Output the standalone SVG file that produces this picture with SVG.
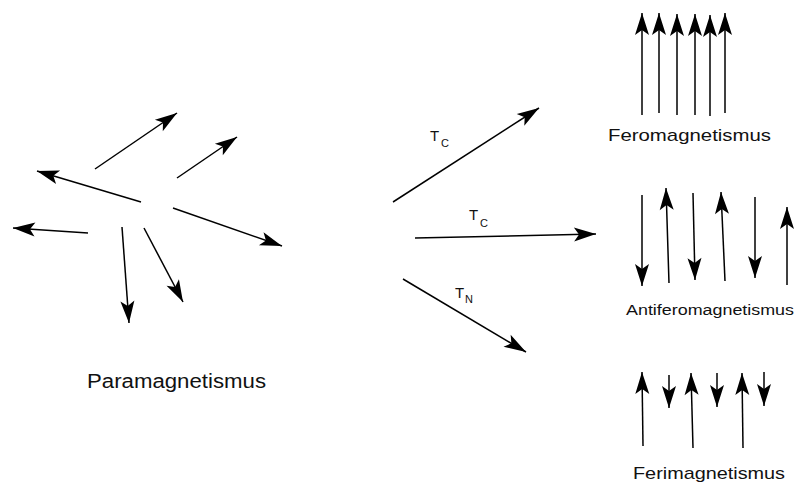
<svg xmlns="http://www.w3.org/2000/svg" width="796" height="483" viewBox="0 0 796 483">
<style>
.a{stroke:#000;stroke-width:1.5;fill:none;marker-end:url(#ah)}
.t{font-family:"Liberation Sans",Arial,sans-serif;fill:#111}
</style>
<defs>
<marker id="ah" markerUnits="userSpaceOnUse" viewBox="-24 -8 26 16" refX="0" refY="0" markerWidth="26" markerHeight="16" orient="auto" overflow="visible">
<path d="M0,0 L-22,-7 L-17,0 L-22,7 Z" fill="#000"/>
</marker>
</defs>
<rect width="796" height="483" fill="#fff"/>
<g id="connectors">
<g id="para-arrows">
<line class="a" x1="95" y1="169" x2="177" y2="113"/>
<line class="a" x1="177" y1="178" x2="237" y2="137"/>
<line class="a" x1="141" y1="202" x2="37" y2="171"/>
<line class="a" x1="88" y1="233" x2="13" y2="228"/>
<line class="a" x1="173" y1="208" x2="282" y2="246"/>
<line class="a" x1="122" y1="227" x2="129" y2="323"/>
<line class="a" x1="144" y1="228" x2="183" y2="302"/>
</g>
<g id="transitions">
<line class="a" x1="393" y1="202" x2="539" y2="108"/>
<line class="a" x1="415" y1="238" x2="596" y2="234"/>
<line class="a" x1="403" y1="279" x2="526" y2="352"/>
</g>
<g id="fero-arrows">
<line class="a" x1="642" y1="115" x2="642" y2="13"/>
<line class="a" x1="659" y1="113" x2="659" y2="13"/>
<line class="a" x1="677" y1="115" x2="677" y2="14"/>
<line class="a" x1="695" y1="115" x2="695" y2="14"/>
<line class="a" x1="710" y1="116" x2="710" y2="15"/>
<line class="a" x1="725" y1="113" x2="725" y2="13"/>
</g>
<g id="antifero-arrows">
<line class="a" x1="642" y1="195" x2="642" y2="286"/>
<line class="a" x1="669" y1="283" x2="666" y2="188"/>
<line class="a" x1="693" y1="193" x2="695" y2="280"/>
<line class="a" x1="725" y1="281" x2="721" y2="192"/>
<line class="a" x1="755" y1="197" x2="755" y2="278"/>
<line class="a" x1="787" y1="285" x2="787" y2="207"/>
</g>
<g id="feri-arrows">
<line class="a" x1="643" y1="446" x2="642" y2="372"/>
<line class="a" x1="669" y1="375" x2="669" y2="408"/>
<line class="a" x1="693" y1="448" x2="691" y2="373"/>
<line class="a" x1="717" y1="373" x2="717" y2="407"/>
<line class="a" x1="743" y1="448" x2="742" y2="373"/>
<line class="a" x1="764" y1="372" x2="764" y2="406"/>
</g>
</g>
<g id="labels">
<g id="tc1"><text class="t" x="430" y="141" font-size="15">T</text><text class="t" x="441" y="147" font-size="11">C</text></g>
<g id="tc2"><text class="t" x="469" y="220" font-size="15">T</text><text class="t" x="480" y="227" font-size="11">C</text></g>
<g id="tn"><text class="t" x="455" y="298" font-size="15">T</text><text class="t" x="465" y="303" font-size="11">N</text></g>
</g>
<g id="paramagnetismus"><text class="t" x="87" y="388" font-size="20" textLength="179" lengthAdjust="spacingAndGlyphs">Paramagnetismus</text></g>
<g id="feromagnetismus"><text class="t" x="608" y="141" font-size="17" textLength="163" lengthAdjust="spacingAndGlyphs">Feromagnetismus</text></g>
<g id="antiferomagnetismus"><text class="t" x="626" y="315" font-size="15.5" textLength="168" lengthAdjust="spacingAndGlyphs">Antiferomagnetismus</text></g>
<g id="ferimagnetismus"><text class="t" x="633" y="479" font-size="17" textLength="152" lengthAdjust="spacingAndGlyphs">Ferimagnetismus</text></g>
</svg>
